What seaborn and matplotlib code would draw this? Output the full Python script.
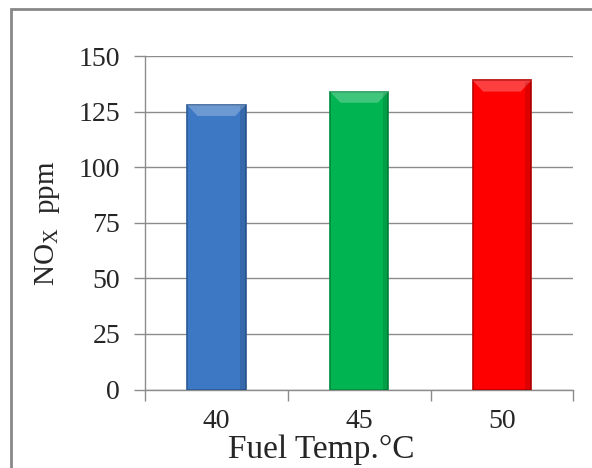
import matplotlib
matplotlib.use("Agg")
import matplotlib.pyplot as plt
import matplotlib.patches as mpatches
import seaborn as sns
import pandas as pd

# Fuel temperature (°C) and measured NOx (ppm)
temps = ["40", "45", "50"]
nox_ppm = [128, 134, 139]
bar_colors = ["#3D78C4", "#00B451", "#FE0000"]
edge_colors = ["#2C5A95", "#00893C", "#B80000"]
y_ticks = [0, 25, 50, 75, 100, 125, 150]

sns.set_theme(style="white")
plt.rcParams["font.family"] = ["Liberation Serif", "DejaVu Serif"]
plt.rcParams["mathtext.fontset"] = "custom"
plt.rcParams["mathtext.rm"] = "Liberation Serif"
plt.rcParams["mathtext.it"] = "Liberation Serif"

df = pd.DataFrame({"temp": temps, "nox": nox_ppm})

fig = plt.figure(figsize=(5.92, 4.68), dpi=100)
ax = fig.add_axes([0.245, 0.1677, 0.7235, 0.7126])

sns.barplot(data=df, x="temp", y="nox", hue="temp", palette=bar_colors,
            saturation=1, width=0.41, legend=False, ax=ax, zorder=3)

for patch, ec in zip(ax.patches, edge_colors):
    patch.set_edgecolor(ec)
    patch.set_linewidth(1.2)
    # lighter bevel along the top of each bar
    x0, y0 = patch.get_x(), patch.get_y()
    w, h = patch.get_width(), patch.get_height()
    inset = w * 0.18
    bevel = mpatches.Polygon(
        [(x0, y0 + h), (x0 + w, y0 + h), (x0 + w - inset, y0 + h - 5.0), (x0 + inset, y0 + h - 5.0)],
        closed=True, facecolor="white", alpha=0.25, edgecolor="none", zorder=4)
    ax.add_patch(bevel)
    # slight shading along the right side
    side = mpatches.Rectangle((x0 + w * 0.9, y0), w * 0.1, h - 0.5, facecolor="black",
                              alpha=0.12, edgecolor="none", zorder=4)
    ax.add_patch(side)

grid_c = "#8C8C8C"
ax.set_ylim(0, 150)
ax.set_yticks(y_ticks)
ax.yaxis.grid(True, color=grid_c, linewidth=1.0, zorder=0)
ax.set_axisbelow(True)

ax.set_xlim(-0.5, 2.5)
ax.set_xticks([-0.5, 0.5, 1.5, 2.5])
ax.set_xticklabels([])
ax.set_xticks([0, 1, 2], minor=True)
ax.set_xticklabels(temps, minor=True)
ax.tick_params(axis="x", which="major", direction="out", length=8, width=1.0, color=grid_c, bottom=True)
ax.tick_params(axis="x", which="minor", length=0, pad=14, labelsize=20)
ax.tick_params(axis="y", direction="out", length=8, width=1.0, color=grid_c, left=True, labelsize=20, pad=10)

for s in ["top", "right"]:
    ax.spines[s].set_visible(False)
for s in ["left", "bottom"]:
    ax.spines[s].set_color(grid_c)
    ax.spines[s].set_linewidth(1.0)

ax.set_xlabel("Fuel Temp.°C", fontsize=24)
ax.xaxis.set_label_coords(0.411, -0.135)
ax.set_ylabel(r"NO$_\mathregular{X}$  ppm", fontsize=21, labelpad=12)

# outer chart frame
frame = mpatches.Rectangle((11 / 592, -0.1), 1.2, 1.1 - 9 / 468, transform=fig.transFigure,
                           fill=False, edgecolor="#888888", linewidth=2.0, clip_on=False)
fig.patches.append(frame)

fig.savefig("out.png", dpi=100)
